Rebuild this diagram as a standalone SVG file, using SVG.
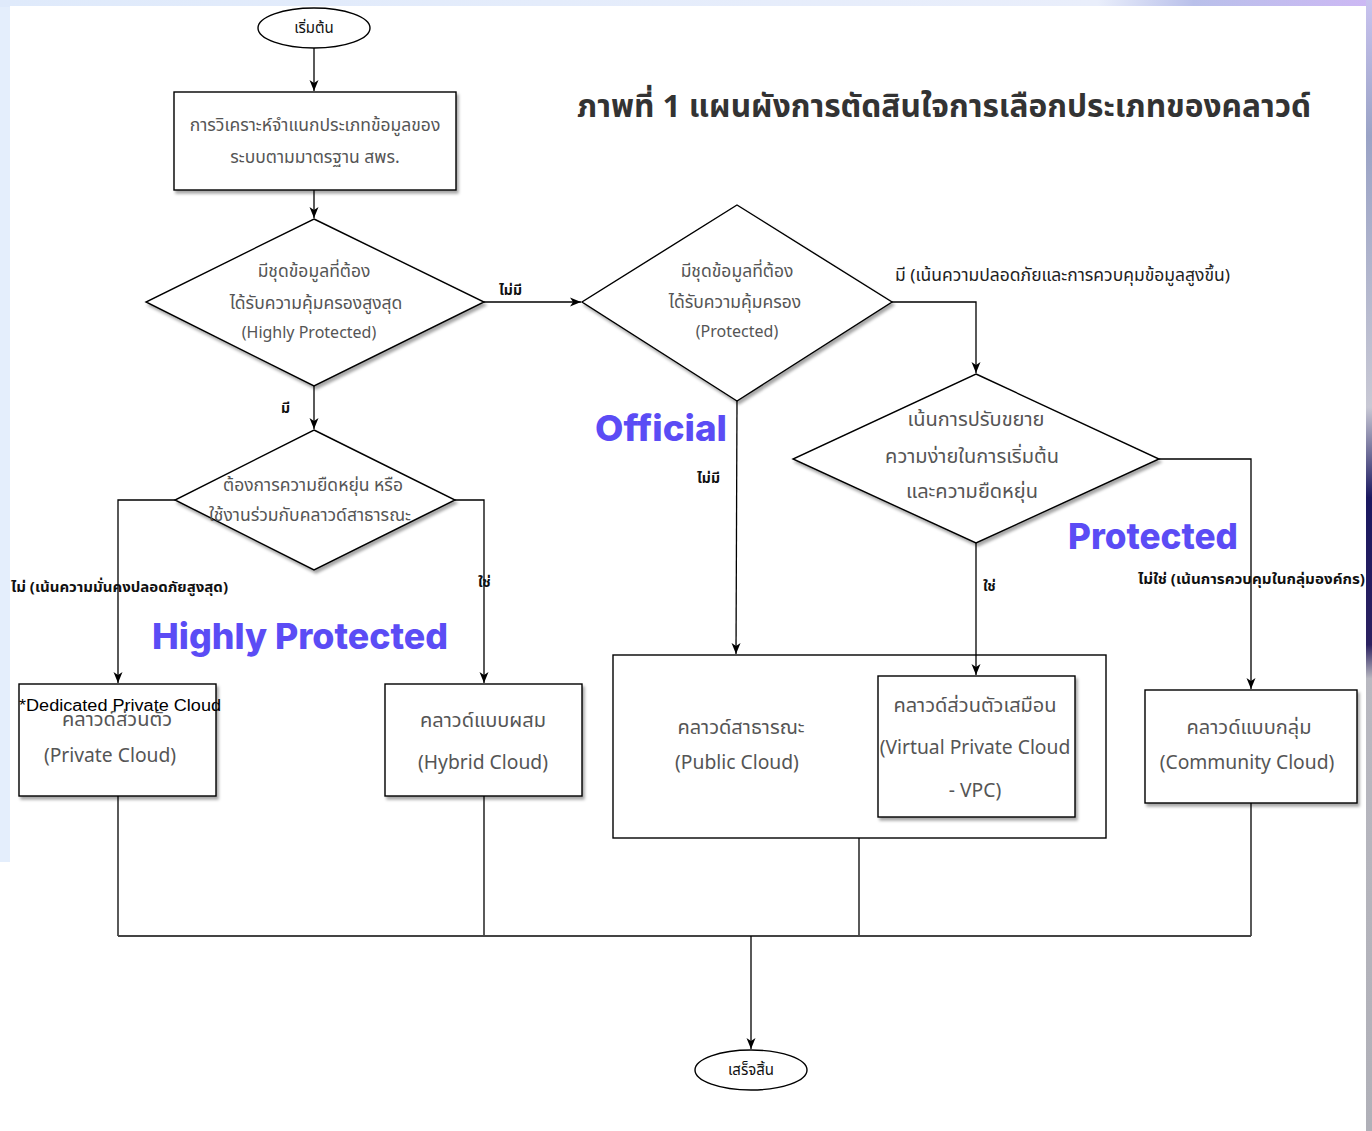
<svg xmlns="http://www.w3.org/2000/svg" width="1372" height="1131" viewBox="0 0 1372 1131">
  <style>
    .shape { fill: #ffffff; stroke: #000000; stroke-width: 1.4; }
    .body { font-family: "Noto Sans Thai", "Noto Sans", "DejaVu Sans", sans-serif; font-size: 17.5px; fill: #555555; text-anchor: middle; }
    .lat { font-size: 16px; }
    .big { font-size: 20px; }
    .biglat { font-size: 19.3px; }
    .term { font-family: "Noto Sans Thai", "Noto Sans", sans-serif; font-size: 15px; fill: #111111; text-anchor: middle; }
    .lbl { font-family: "Noto Sans Thai", "Noto Sans", sans-serif; font-size: 14px; font-weight: bold; fill: #111111; }
    .lbl2 { font-family: "Noto Sans Thai", "Noto Sans", sans-serif; font-size: 17px; fill: #222222; }
    .tag { font-family: Inter, "Open Sans", sans-serif; font-size: 36px; font-weight: 800; fill: #5B4CF5; }
    .title { font-family: "Noto Sans Thai", "Noto Sans", sans-serif; font-size: 31px; font-weight: bold; fill: #333333; }
    .wire { fill: none; stroke: #000000; stroke-width: 1.3; }
  </style>
  <defs>
    <marker id="arrow" markerUnits="userSpaceOnUse" markerWidth="12" markerHeight="12" viewBox="0 0 12 12" refX="11" refY="6" orient="auto">
      <path d="M0,1.5 L11,6 L0,10.5 L3,6 Z" fill="#000000"/>
    </marker>
    <filter id="shadow" x="-10%" y="-10%" width="125%" height="130%">
      <feDropShadow dx="2" dy="3" stdDeviation="1.8" flood-color="#000000" flood-opacity="0.35"/>
    </filter>
    <linearGradient id="topband" x1="0" y1="0" x2="1" y2="0">
      <stop offset="0" stop-color="#dfeafb"/>
      <stop offset="0.8" stop-color="#e9eefb"/>
      <stop offset="0.87" stop-color="#b9c0ea"/>
      <stop offset="1" stop-color="#cdb8f4"/>
    </linearGradient>
    <linearGradient id="rightstrip" x1="0" y1="0" x2="0" y2="1">
      <stop offset="0" stop-color="#c9c3ef"/>
      <stop offset="0.12" stop-color="#9aa3c6"/>
      <stop offset="0.36" stop-color="#c8c8d4"/>
      <stop offset="0.44" stop-color="#1a1860"/>
      <stop offset="0.57" stop-color="#2b2160"/>
      <stop offset="0.6" stop-color="#b8b8c0"/>
      <stop offset="1" stop-color="#b0b0b8"/>
    </linearGradient>
  </defs>

  <!-- page backdrop -->
  <rect x="0" y="0" width="1372" height="1131" fill="#e4eefc"/>
  <rect x="0" y="0" width="1372" height="7" fill="url(#topband)"/>
  <rect x="1366" y="0" width="6" height="1131" fill="url(#rightstrip)"/>
  <rect x="0" y="862" width="10" height="269" fill="#ffffff"/>
  <rect x="10" y="6" width="1356" height="1125" fill="#ffffff"/>

  <!-- title -->
  <text class="title" x="944" y="117" text-anchor="middle" textLength="734" lengthAdjust="spacingAndGlyphs">ภาพที่ 1 แผนผังการตัดสินใจการเลือกประเภทของคลาวด์</text>

  <!-- start -->
  <g id="start">
    <ellipse class="shape" cx="314" cy="28" rx="56" ry="20"/>
    <text class="term" x="314" y="33">เริ่มต้น</text>
  </g>

  <!-- classification step -->
  <g id="classify">
    <rect class="shape" x="174" y="92" width="282" height="98" filter="url(#shadow)"/>
    <text class="body" x="315" y="131">การวิเคราะห์จำแนกประเภทข้อมูลของ</text>
    <text class="body" x="315" y="163">ระบบตามมาตรฐาน สพร.</text>
  </g>

  <!-- decision: highly protected -->
  <g id="decision-highly">
    <polygon class="shape" points="314,219 484,302 314,386 146,302" filter="url(#shadow)"/>
    <text class="body" x="314" y="277">มีชุดข้อมูลที่ต้อง</text>
    <text class="body" x="316" y="309">ได้รับความคุ้มครองสูงสุด</text>
    <text class="body lat" x="309" y="338">(Highly Protected)</text>
  </g>

  <!-- decision: protected -->
  <g id="decision-protected">
    <polygon class="shape" points="737,205 892,302 737,401 582,302" filter="url(#shadow)"/>
    <text class="body" x="737" y="277">มีชุดข้อมูลที่ต้อง</text>
    <text class="body" x="735" y="308">ได้รับความคุ้มครอง</text>
    <text class="body lat" x="737" y="337">(Protected)</text>
  </g>

  <!-- decision: scaling / flexibility -->
  <g id="decision-scale">
    <polygon class="shape" points="976,374 1159,459 976,543 793,459" filter="url(#shadow)"/>
    <text class="body big" x="976" y="426">เน้นการปรับขยาย</text>
    <text class="body big" x="972" y="463">ความง่ายในการเริ่มต้น</text>
    <text class="body big" x="972" y="498">และความยืดหยุ่น</text>
  </g>

  <!-- decision: flexibility / public sharing -->
  <g id="decision-flex">
    <polygon class="shape" points="314,430 455,500 314,570 175,500" filter="url(#shadow)"/>
    <text class="body" x="313" y="491">ต้องการความยืดหยุ่น หรือ</text>
    <text class="body" x="310" y="521">ใช้งานร่วมกับคลาวด์สาธารณะ</text>
  </g>

  <!-- private cloud -->
  <g id="private-cloud">
    <rect class="shape" x="19" y="684" width="197" height="112" filter="url(#shadow)"/>
    <text class="body big" x="117" y="726">คลาวด์ส่วนตัว</text>
    <text class="body biglat" x="110" y="762">(Private Cloud)</text>
    <text x="120" y="711" font-family="Liberation Sans, Arial, sans-serif" font-size="16" fill="#000000" text-anchor="middle" textLength="202" lengthAdjust="spacingAndGlyphs">*Dedicated Private Cloud</text>
  </g>

  <!-- hybrid cloud -->
  <g id="hybrid-cloud">
    <rect class="shape" x="385" y="684" width="197" height="112" filter="url(#shadow)"/>
    <text class="body big" x="483" y="727">คลาวด์แบบผสม</text>
    <text class="body biglat" x="483" y="769">(Hybrid Cloud)</text>
  </g>

  <!-- public cloud container -->
  <g id="public-cloud">
    <rect class="shape" x="613" y="655" width="493" height="183"/>
    <text class="body big" x="741" y="734">คลาวด์สาธารณะ</text>
    <text class="body biglat" x="737" y="769">(Public Cloud)</text>
  </g>

  <!-- virtual private cloud -->
  <g id="vpc">
    <rect class="shape" x="878" y="676" width="197" height="141" filter="url(#shadow)"/>
    <text class="body big" x="975" y="712">คลาวด์ส่วนตัวเสมือน</text>
    <text class="body biglat" x="975" y="754">(Virtual Private Cloud</text>
    <text class="body biglat" x="975" y="797">- VPC)</text>
  </g>

  <!-- community cloud -->
  <g id="community-cloud">
    <rect class="shape" x="1145" y="690" width="212" height="113" filter="url(#shadow)"/>
    <text class="body big" x="1249" y="734">คลาวด์แบบกลุ่ม</text>
    <text class="body biglat" x="1247" y="769">(Community Cloud)</text>
  </g>

  <!-- end -->
  <g id="end">
    <ellipse class="shape" cx="751" cy="1070" rx="56" ry="20"/>
    <text class="term" x="751" y="1075">เสร็จสิ้น</text>
  </g>

  <!-- connectors -->
  <g id="connectors">
    <path class="wire" d="M314,48 V91" marker-end="url(#arrow)"/>
    <path class="wire" d="M314,190 V218" marker-end="url(#arrow)"/>
    <path class="wire" d="M484,302 H581" marker-end="url(#arrow)"/>
    <path class="wire" d="M892,302 H976 V373" marker-end="url(#arrow)"/>
    <path class="wire" d="M314,386 V429" marker-end="url(#arrow)"/>
    <path class="wire" d="M737,401 L736,654" marker-end="url(#arrow)"/>
    <path class="wire" d="M175,500 H118 V683" marker-end="url(#arrow)"/>
    <path class="wire" d="M455,500 H484 V683" marker-end="url(#arrow)"/>
    <path class="wire" d="M976,543 V675" marker-end="url(#arrow)"/>
    <path class="wire" d="M1159,459 H1251 V689" marker-end="url(#arrow)"/>
    <path class="wire" d="M118,796 V936"/>
    <path class="wire" d="M484,796 V936"/>
    <path class="wire" d="M859,838 V936"/>
    <path class="wire" d="M1251,803 V936"/>
    <path d="M118,936 H1251" fill="none" stroke="#444444" stroke-width="2"/>
    <path class="wire" d="M751,936 V1049" marker-end="url(#arrow)"/>

    <text class="lbl" x="499" y="295">ไม่มี</text>
    <text class="lbl2" x="895" y="281" textLength="335" lengthAdjust="spacingAndGlyphs">มี  (เน้นความปลอดภัยและการควบคุมข้อมูลสูงขึ้น)</text>
    <text class="lbl" x="281" y="413">มี</text>
    <text class="lbl" x="697" y="483">ไม่มี</text>
    <text class="lbl" x="11" y="592" textLength="217" lengthAdjust="spacingAndGlyphs">ไม่ (เน้นความมั่นคงปลอดภัยสูงสุด)</text>
    <text class="lbl" x="478" y="587">ใช่</text>
    <text class="lbl" x="983" y="591">ใช่</text>
    <text class="lbl" x="1138" y="584" textLength="227" lengthAdjust="spacingAndGlyphs">ไม่ใช่ (เน้นการควบคุมในกลุ่มองค์กร)</text>
  </g>

  <!-- classification tags -->
  <text class="tag" x="595" y="441" textLength="132" lengthAdjust="spacingAndGlyphs">Official</text>
  <text class="tag" x="152" y="649" textLength="296" lengthAdjust="spacingAndGlyphs">Highly Protected</text>
  <text class="tag" x="1068" y="549" textLength="170" lengthAdjust="spacingAndGlyphs">Protected</text>
</svg>
